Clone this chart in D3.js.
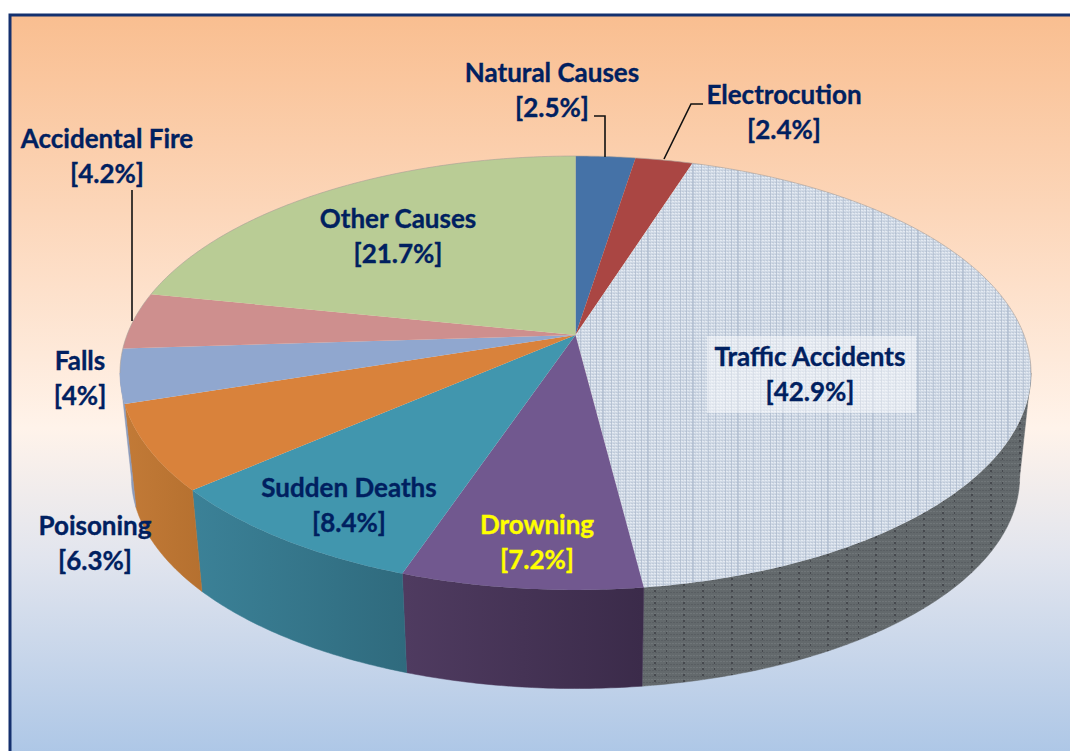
<!DOCTYPE html>
<html>
<head>
    <meta charset="utf-8">
    <script src="https://d3js.org/d3.v7.min.js"></script>
</head>
<style>
    html, body { margin: 0; padding: 0; background: #fff; overflow: hidden; }
    svg { display: block; }
    .label { font-family: Lato, sans-serif; font-weight: 700; font-size: 26px; text-anchor: middle; stroke-width: 0.35px; }
</style>
<body>
  <svg id="chart" width="1070" height="751"></svg>
</body>
<script>
    // slices, clockwise from 12 o'clock
    const causes = ["Natural Causes", "Electrocution", "Traffic Accidents", "Drowning", "Sudden Deaths", "Poisoning", "Falls", "Accidental Fire", "Other Causes"];
    const shares = [2.5, 2.4, 42.9, 7.2, 8.4, 6.3, 4, 4.2, 21.7];
    const shareLabels = ["[2.5%]", "[2.4%]", "[42.9%]", "[7.2%]", "[8.4%]", "[6.3%]", "[4%]", "[4.2%]", "[21.7%]"];

    const topColors = ["#4572A7", "#AA4643", "url(#weaveTop)", "#71588F", "#4196AE", "#D9823B", "#90A7CF", "#CE8F8E", "#B9CC95"];
    const sideColors = ["#35587f", "#823533", "url(#weaveSide)", "url(#sideDrowning)", "url(#sideSudden)", "url(#sidePoison)", "#8a9abb", "#a87675", "#8f9f74"];

    // label centre x and first baseline y
    const labelPos = {
        "Natural Causes": [552, 82],
        "Electrocution": [784, 104],
        "Traffic Accidents": [810, 366],
        "Drowning": [537, 534],
        "Sudden Deaths": [349, 497],
        "Poisoning": [95, 535],
        "Falls": [80, 370],
        "Accidental Fire": [107, 148],
        "Other Causes": [398, 228]
    };
    const leaders = [
        [[594, 116], [605, 116], [605, 157]],
        [[703, 104], [691, 104], [664, 159]],
        [[132, 190], [132, 321]]
    ];

    const svg = d3.select("svg#chart");
    const width = +svg.attr("width");
    const height = +svg.attr("height");

    // perspective of the tilted disc
    const cx = 575.5, cy = 335;
    const a = 448.5, b = 210.3, k = 0.175;
    const rimScale = 0.975, rimDrop = 105;

    function project(angle, s, drop) {
        let u = Math.sin(angle), v = -Math.cos(angle);
        let w = 1 - k * v;
        return [cx + s * a * u / w, cy + drop + s * b * v / w];
    }
    function arcPoints(a0, a1, s, drop) {
        let n = Math.max(2, Math.ceil(Math.abs(a1 - a0) / 0.01));
        return d3.range(n + 1).map(i => project(a0 + (a1 - a0) * i / n, s, drop));
    }
    const line = d3.line();

    const defs = svg.append("defs");

    let bg = defs.append("linearGradient").attr("id", "panelFill")
        .attr("x1", 0).attr("y1", 0).attr("x2", 0).attr("y2", 1);
    [[0, "#f9be90"], [0.26, "#fcd6b9"], [0.55, "#fff3ea"], [0.72, "#e2e5ee"], [1, "#aac5e6"]].forEach(function(s) {
        bg.append("stop").attr("offset", s[0]).attr("stop-color", s[1]);
    });

    function sideGradient(id, x0, x1, c0, c1) {
        let g = defs.append("linearGradient").attr("id", id).attr("gradientUnits", "userSpaceOnUse")
            .attr("x1", x0).attr("y1", 0).attr("x2", x1).attr("y2", 0);
        g.append("stop").attr("offset", 0).attr("stop-color", c0);
        g.append("stop").attr("offset", 1).attr("stop-color", c1);
    }
    sideGradient("sidePoison", 125, 203, "#c27a37", "#b5702f");
    sideGradient("sideSudden", 195, 410, "#3b8197", "#2f6a7d");
    sideGradient("sideDrowning", 405, 642, "#4f3b60", "#3b2b4a");

    // woven texture of the big slice
    let weaveTop = defs.append("pattern").attr("id", "weaveTop").attr("patternUnits", "userSpaceOnUse")
        .attr("width", 45).attr("height", 3);
    weaveTop.append("rect").attr("width", 45).attr("height", 3).attr("fill", "#d0d9e5");
    d3.range(0, 45, 3).forEach(function(x) {
        weaveTop.append("rect").attr("x", x).attr("y", 0).attr("width", 2).attr("height", 1).attr("fill", "#e4eaf2");
        weaveTop.append("rect").attr("x", x + 1).attr("y", 2).attr("width", 2).attr("height", 1).attr("fill", "#c0cbda");
    });
    [5, 11, 17, 18, 26, 33, 40].forEach(function(x) {
        weaveTop.append("rect").attr("x", x).attr("y", 0).attr("width", 1).attr("height", 3).attr("fill", "#a9b6c9").attr("opacity", 0.6);
    });

    let weaveSide = defs.append("pattern").attr("id", "weaveSide").attr("patternUnits", "userSpaceOnUse")
        .attr("width", 48).attr("height", 6);
    weaveSide.append("rect").attr("width", 48).attr("height", 6).attr("fill", "#63696c");
    d3.range(0, 48, 3).forEach(function(x) {
        weaveSide.append("rect").attr("x", x).attr("y", 1).attr("width", 2).attr("height", 1).attr("fill", "#6f7578");
        weaveSide.append("rect").attr("x", x + 1).attr("y", 4).attr("width", 2).attr("height", 1).attr("fill", "#595e62");
    });
    [11, 12, 30, 31, 42].forEach(function(x) {
        weaveSide.append("rect").attr("x", x).attr("y", 2).attr("width", 1).attr("height", 2).attr("fill", "#46494e");
    });

    // panel
    svg.append("rect").attr("x", 10).attr("y", 15).attr("width", width).attr("height", height)
        .attr("fill", "url(#panelFill)").attr("stroke", "#14306e").attr("stroke-width", 3);

    const pie = d3.pie().sort(null).value(d => d);
    const slices = pie(shares);

    // walls first, only the part facing the viewer (rim is widest at these angles)
    const wallFrom = Math.PI / 2 + Math.asin(k), wallTo = Math.PI * 1.5 - Math.asin(k);
    const walls = svg.append("g");
    slices.forEach(function(d, i) {
        let a0 = Math.max(d.startAngle, wallFrom), a1 = Math.min(d.endAngle, wallTo);
        if (a1 <= a0) return;
        let upper = arcPoints(a0, a1, 1, 0);
        let lower = arcPoints(a1, a0, rimScale, rimDrop);
        walls.append("path")
            .attr("d", line(upper.concat(lower)) + "Z")
            .attr("fill", sideColors[i])
            .attr("stroke", sideColors[i])
            .attr("stroke-width", 0.5);
    });

    // top of the disc
    const tops = svg.append("g");
    slices.forEach(function(d, i) {
        let pts = [[cx, cy]].concat(arcPoints(d.startAngle, d.endAngle, 1, 0));
        tops.append("path")
            .attr("d", line(pts) + "Z")
            .attr("fill", topColors[i]);
    });
    // grey edge along the far rim only
    tops.append("path")
        .attr("d", line(arcPoints(wallTo, wallFrom + Math.PI * 2, 1, 0)))
        .attr("fill", "none")
        .attr("stroke", "#a89f98")
        .attr("stroke-opacity", 0.6)
        .attr("stroke-width", 1);

    // leader lines
    svg.append("g").selectAll("path").data(leaders).enter().append("path")
        .attr("d", d => line(d))
        .attr("fill", "none")
        .attr("stroke", "#111")
        .attr("stroke-width", 1.6);

    // white box behind the big label
    let tp = labelPos["Traffic Accidents"];
    svg.append("rect").attr("x", tp[0] - 103).attr("y", tp[1] - 30).attr("width", 209).attr("height", 77)
        .attr("fill", "#fff").attr("opacity", 0.45);

    const labels = svg.append("g");
    causes.forEach(function(name, i) {
        let p = labelPos[name];
        let fill = name == "Drowning" ? "#ffff00" : "#002060";
        labels.append("text").attr("class", "label").attr("x", p[0]).attr("y", p[1]).attr("fill", fill).attr("stroke", fill).text(name);
        labels.append("text").attr("class", "label").attr("x", p[0]).attr("y", p[1] + 35).attr("fill", fill).attr("stroke", fill).text(shareLabels[i]);
    });
</script>
</html>
